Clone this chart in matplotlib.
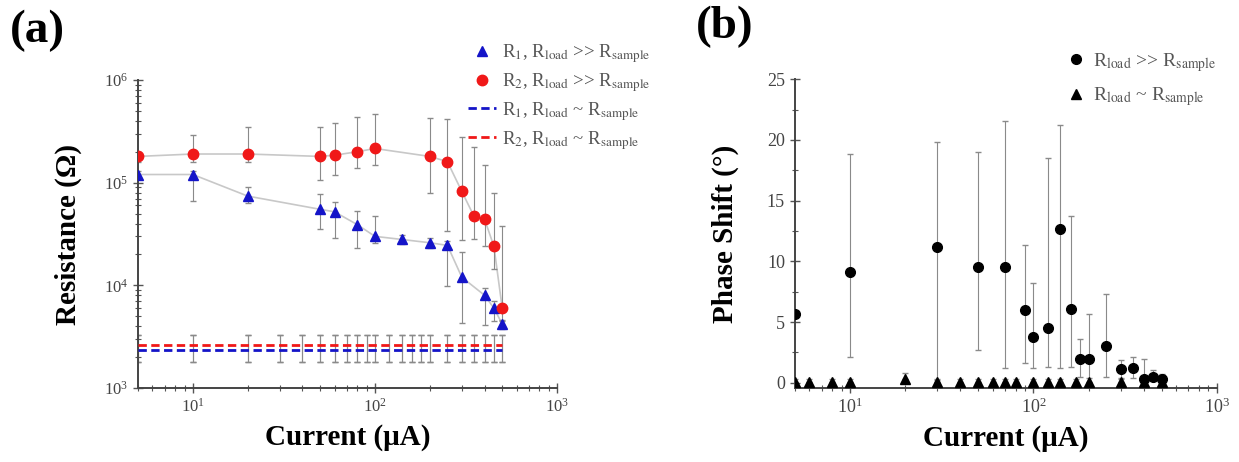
import numpy as np
import matplotlib
matplotlib.use("Agg")
import matplotlib.pyplot as plt
from matplotlib.ticker import LogLocator, MultipleLocator, NullFormatter

plt.rcParams['font.family'] = ['Liberation Serif', 'DejaVu Serif']
plt.rcParams['mathtext.fontset'] = 'stix'

# ---- panel (a): resistance vs current ----
cur_r1 = [5, 10, 20, 50, 60, 80, 100, 140, 200, 250, 300, 400, 450, 500]
r1 = [1.2e5, 1.2e5, 7.4e4, 5.5e4, 5.2e4, 3.9e4, 3.0e4, 2.8e4, 2.6e4, 2.45e4, 1.2e4, 8.0e3, 6.0e3, 4.2e3]
r1_lo = [1.1e5, 6.6e4, 6.3e4, 3.5e4, 2.9e4, 2.3e4, 2.6e4, 2.5e4, 2.3e4, 9.8e3, 4.3e3, 4.1e3, 4.5e3, 3.8e3]
r1_hi = [1.3e5, 1.3e5, 9.0e4, 7.7e4, 6.5e4, 5.3e4, 4.7e4, 3.1e4, 2.9e4, 2.7e4, 2.1e4, 9.5e3, 7.0e3, 4.6e3]

cur_r2 = [5, 10, 20, 50, 60, 80, 100, 200, 250, 300, 350, 400, 450, 500]
r2 = [1.8e5, 1.9e5, 1.9e5, 1.8e5, 1.85e5, 2.0e5, 2.15e5, 1.8e5, 1.6e5, 8.2e4, 4.7e4, 4.4e4, 2.4e4, 6.0e3]
r2_lo = [1.6e5, 1.6e5, 1.6e5, 1.05e5, 1.2e5, 1.4e5, 1.47e5, 8.0e4, 3.4e4, 2.75e4, 2.8e4, 2.4e4, 1.43e4, 4.5e3]
r2_hi = [2.0e5, 2.9e5, 3.5e5, 3.5e5, 3.8e5, 4.4e5, 4.7e5, 4.3e5, 4.2e5, 2.8e5, 2.2e5, 1.5e5, 8.0e4, 3.8e4]

cur_sim = [5, 10, 20, 30, 40, 50, 60, 70, 80, 90, 100, 120, 140, 160, 180, 200, 250, 300, 350, 400, 450, 500]
r1_sim = [2.35e3, 2.35e3, 2.35e3, 2.35e3, 2.35e3, 2.35e3, 2.35e3, 2.35e3, 2.35e3, 2.35e3, 2.35e3,
          2.35e3, 2.35e3, 2.35e3, 2.35e3, 2.35e3, 2.35e3, 2.35e3, 2.35e3, 2.35e3, 2.35e3, 2.35e3]
r2_sim = [2.6e3, 2.6e3, 2.6e3, 2.6e3, 2.6e3, 2.6e3, 2.6e3, 2.6e3, 2.6e3, 2.6e3, 2.6e3,
          2.6e3, 2.6e3, 2.6e3, 2.6e3, 2.6e3, 2.6e3, 2.6e3, 2.6e3, 2.6e3, 2.6e3, 2.6e3]
sim_lo = 1.8e3
sim_hi = 3.3e3

# ---- panel (b): phase shift vs current ----
cur_ph = [5, 10, 30, 50, 70, 90, 100, 120, 140, 160, 180, 200, 250, 300, 350, 400, 450, 500]
phase = [5.7, 9.1, 11.15, 9.5, 9.5, 6.0, 3.8, 4.55, 12.7, 6.1, 2.0, 2.0, 3.05, 1.1, 1.25, 0.35, 0.5, 0.35]
phase_lo = [5.7, 2.1, 0.2, 2.7, 1.2, 1.6, 1.2, 1.3, 1.2, 1.3, 0.5, 0.0, 0.5, 0.35, 0.4, 0.1, 0.2, 0.1]
phase_hi = [5.7, 18.85, 19.85, 19.05, 21.6, 11.35, 8.25, 18.5, 21.25, 13.7, 3.65, 5.7, 7.35, 1.85, 2.1, 2.0, 1.05, 0.7]

cur_ph_sim = [5, 6, 8, 10, 20, 30, 40, 50, 60, 70, 80, 100, 120, 140, 170, 200, 300, 400, 500]
phase_sim = [0.1, 0.1, 0.1, 0.1, 0.3, 0.1, 0.1, 0.1, 0.1, 0.1, 0.1, 0.1, 0.1, 0.1, 0.1, 0.1, 0.1, 0.1, 0.1]
phase_sim_hi = [0.3, 0.3, 0.3, 0.3, 0.8, 0.3, 0.3, 0.3, 0.3, 0.3, 0.3, 0.3, 0.3, 0.3, 0.3, 0.4, 0.4, 0.3, 0.3]

BLUE = '#1414c8'
RED = '#f01818'
ERR = '#8a8a8a'
LINE = '#c8c8c8'


def bounds_to_err(y, lo, hi):
    y = np.asarray(y, float)
    return np.vstack([y - np.asarray(lo, float), np.asarray(hi, float) - y])


def style_axes(ax):
    for s in ['top', 'right']:
        ax.spines[s].set_visible(False)
    for s in ['left', 'bottom']:
        ax.spines[s].set_linewidth(1.4)
        ax.spines[s].set_color('#444444')
    ax.tick_params(which='major', direction='inout', length=7, width=1.0,
                   color='#555555', labelcolor='#444444')
    ax.tick_params(which='minor', direction='inout', length=4, width=0.8, color='#555555')


fig = plt.figure(figsize=(12.39, 4.62), dpi=100)

# panel (a)
ax1 = fig.add_axes([0.1114, 0.160, 0.3382, 0.667])
ax1.set_xscale('log')
ax1.set_yscale('log')

ax1.plot(cur_r2, r2, color=LINE, lw=1.2, zorder=1)
ax1.plot(cur_r1, r1, color=LINE, lw=1.2, zorder=1)
ax1.errorbar(cur_sim, r1_sim, yerr=[np.array(r1_sim) - sim_lo, sim_hi - np.array(r1_sim)],
             fmt='none', ecolor=ERR, elinewidth=0.8, capsize=2, zorder=2)
ax1.errorbar(cur_sim, r2_sim, yerr=[np.array(r2_sim) - sim_lo, sim_hi - np.array(r2_sim)],
             fmt='none', ecolor=ERR, elinewidth=0.8, capsize=2, zorder=2)
ax1.errorbar(cur_r2, r2, yerr=bounds_to_err(r2, r2_lo, r2_hi), fmt='none',
             ecolor=ERR, elinewidth=0.8, capsize=2, zorder=2)
ax1.errorbar(cur_r1, r1, yerr=bounds_to_err(r1, r1_lo, r1_hi), fmt='none',
             ecolor=ERR, elinewidth=0.8, capsize=2, zorder=2)

h1, = ax1.plot(cur_r1, r1, ls='none', marker='^', ms=7.5, color=BLUE, mec=BLUE, zorder=4,
               label=r'R$_1$, R$_{\mathrm{load}}$ >> R$_{\mathrm{sample}}$')
h2, = ax1.plot(cur_r2, r2, ls='none', marker='o', ms=7.5, color=RED, mec=RED, zorder=4,
               label=r'R$_2$, R$_{\mathrm{load}}$ >> R$_{\mathrm{sample}}$')
h3, = ax1.plot(cur_sim, r1_sim, ls=(0, (3, 1.6)), lw=2.0, color=BLUE, zorder=3,
               label=r'R$_1$, R$_{\mathrm{load}}$ ~ R$_{\mathrm{sample}}$')
h4, = ax1.plot(cur_sim, r2_sim, ls=(0, (3, 1.6)), lw=2.0, color=RED, zorder=3,
               label=r'R$_2$, R$_{\mathrm{load}}$ ~ R$_{\mathrm{sample}}$')

ax1.set_xlim(5, 1000)
ax1.set_ylim(1e3, 1e6)
ax1.xaxis.set_major_locator(LogLocator(base=10, numticks=10))
ax1.xaxis.set_minor_locator(LogLocator(base=10, subs=np.arange(2, 10), numticks=10))
ax1.xaxis.set_minor_formatter(NullFormatter())
ax1.yaxis.set_major_locator(LogLocator(base=10, numticks=10))
ax1.yaxis.set_minor_locator(LogLocator(base=10, subs=np.arange(2, 10), numticks=10))
ax1.yaxis.set_minor_formatter(NullFormatter())
style_axes(ax1)
ax1.tick_params(labelsize=12)
ax1.set_xlabel('Current (μA)', fontsize=21, fontweight='bold', labelpad=6)
ax1.set_ylabel('Resistance (Ω)', fontsize=21, fontweight='bold', labelpad=16)

leg1 = fig.legend(handles=[h1, h2, h3, h4], loc='upper left',
                  bbox_to_anchor=(468 / 1239, 1 - 42 / 462),
                  frameon=False, fontsize=13.5, handlelength=1.5, handletextpad=0.3,
                  labelspacing=0.32, borderaxespad=0, borderpad=0)
for t in leg1.get_texts():
    t.set_color('#555555')

# panel (b)
ax2 = fig.add_axes([0.6414, 0.1608, 0.3407, 0.6676])
ax2.set_xscale('log')
ax2.errorbar(cur_ph, phase, yerr=bounds_to_err(phase, phase_lo, phase_hi), fmt='none',
             ecolor=ERR, elinewidth=0.8, capsize=2, zorder=2)
ax2.errorbar(cur_ph_sim, phase_sim, yerr=bounds_to_err(phase_sim, phase_sim, phase_sim_hi),
             fmt='none', ecolor=ERR, elinewidth=0.8, capsize=2, zorder=2)
g1, = ax2.plot(cur_ph, phase, ls='none', marker='o', ms=7, color='black', zorder=4,
               label=r'R$_{\mathrm{load}}$ >> R$_{\mathrm{sample}}$')
g2, = ax2.plot(cur_ph_sim, phase_sim, ls='none', marker='^', ms=7, color='black', zorder=4,
               label=r'R$_{\mathrm{load}}$ ~ R$_{\mathrm{sample}}$')
ax2.set_xlim(5, 1000)
ax2.set_ylim(-0.4, 25)
ax2.yaxis.set_major_locator(MultipleLocator(5))
ax2.yaxis.set_minor_locator(MultipleLocator(2.5))
ax2.xaxis.set_major_locator(LogLocator(base=10, numticks=10))
ax2.xaxis.set_minor_locator(LogLocator(base=10, subs=np.arange(2, 10), numticks=10))
ax2.xaxis.set_minor_formatter(NullFormatter())
style_axes(ax2)
ax2.tick_params(labelsize=13)
ax2.set_xlabel('Current (μA)', fontsize=21, fontweight='bold', labelpad=6)
ax2.set_ylabel('Phase Shift (°)', fontsize=21, fontweight='bold', labelpad=20)

leg2 = fig.legend(handles=[g1, g2], loc='upper left',
                  bbox_to_anchor=(1066 / 1239, 1 - 51 / 462),
                  frameon=False, fontsize=14, handlelength=1.0, handletextpad=0.4,
                  labelspacing=0.6, borderaxespad=0, borderpad=0)
for t in leg2.get_texts():
    t.set_color('#555555')

fig.text(0.008, 0.978, '(a)', fontsize=34, fontweight='bold', va='top', ha='left')
fig.text(0.562, 0.988, '(b)', fontsize=34, fontweight='bold', va='top', ha='left')

fig.savefig('out.png', dpi=100)
